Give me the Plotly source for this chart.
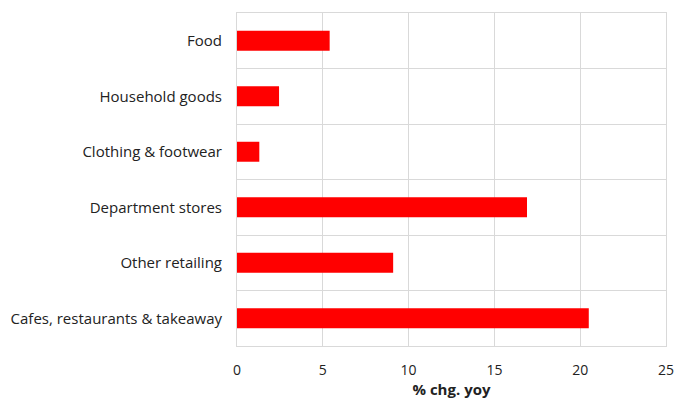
import plotly.graph_objects as go

categories = ["Food", "Household goods", "Clothing & footwear", "Department stores",
              "Other retailing", "Cafes, restaurants & takeaway"]
values = [5.4, 2.45, 1.3, 16.9, 9.1, 20.5]

fig = go.Figure(go.Bar(
    x=values, y=categories, orientation="h",
    marker=dict(color="#ff0000", line=dict(width=0)),
    width=0.36,
))

grid = "#d9d9d9"
font = "Open Sans, Noto Sans, sans-serif"
fig.update_layout(
    width=675, height=399,
    margin=dict(l=237, r=9, t=13, b=53, autoexpand=False),
    paper_bgcolor="white", plot_bgcolor="white",
    showlegend=False,
    font=dict(family=font, size=15, color="#222222"),
    xaxis=dict(range=[0, 25], dtick=5, showgrid=True, gridcolor=grid, gridwidth=1,
               zeroline=False, showline=True, linecolor=grid, mirror=True,
               ticks="", tickfont=dict(size=14), automargin=False,
               ticklabelstandoff=11,
               title=dict(text="<b>% chg. yoy</b>", font=dict(size=15), standoff=2)),
    yaxis=dict(type="category", autorange="reversed", tickson="boundaries",
               showgrid=True, gridcolor=grid, gridwidth=1, showline=True,
               linecolor=grid, mirror=True, ticks="", ticklabelstandoff=11,
               automargin=False, tickfont=dict(size=15)),
)

fig.write_html("out.html")
